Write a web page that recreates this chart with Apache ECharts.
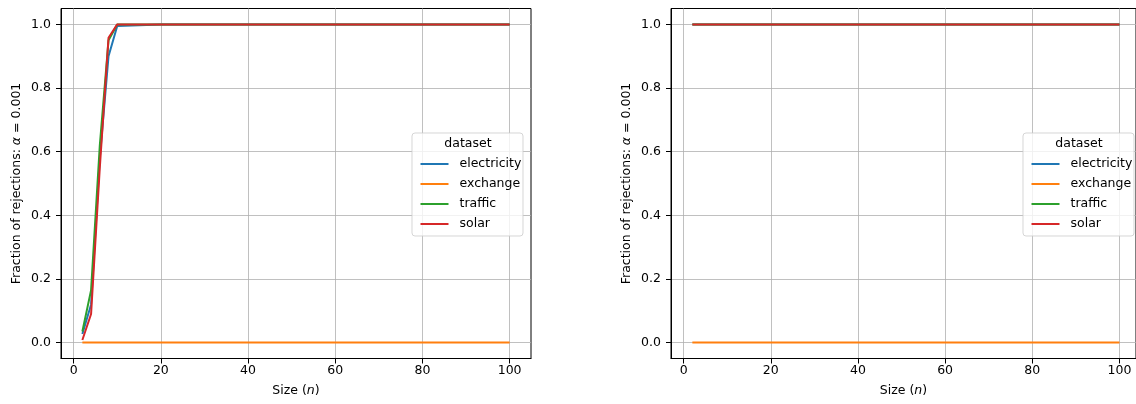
<!DOCTYPE html>
<html>
<head>
<meta charset="utf-8">
<script src="https://cdn.jsdelivr.net/npm/echarts@6/dist/echarts.min.js"></script>
<style>
html,body{margin:0;padding:0;background:#fff;}
#c{width:1136px;height:404px;}
</style>
</head>
<body>
<div id="c"></div>
<script>
// ---- data ----
const sizes = [2, 4, 6, 8, 10, 20, 30, 40, 50, 60, 70, 80, 90, 100];
const seriesNames = ['electricity', 'exchange', 'traffic', 'solar'];
// left panel
const electricityL = [0.027, 0.12, 0.58, 0.90, 0.995, 1, 1, 1, 1, 1, 1, 1, 1, 1];
const exchangeL    = [0, 0, 0, 0, 0, 0, 0, 0, 0, 0, 0, 0, 0, 0];
const trafficL     = [0.035, 0.165, 0.62, 0.95, 1, 1, 1, 1, 1, 1, 1, 1, 1, 1];
const solarL       = [0.008, 0.09, 0.55, 0.958, 1, 1, 1, 1, 1, 1, 1, 1, 1, 1];
// right panel
const electricityR = [1, 1, 1, 1, 1, 1, 1, 1, 1, 1, 1, 1, 1, 1];
const exchangeR    = [0, 0, 0, 0, 0, 0, 0, 0, 0, 0, 0, 0, 0, 0];
const trafficR     = [1, 1, 1, 1, 1, 1, 1, 1, 1, 1, 1, 1, 1, 1];
const solarR       = [1, 1, 1, 1, 1, 1, 1, 1, 1, 1, 1, 1, 1, 1];
const xTicks = [0, 20, 40, 60, 80, 100];
const yTicks = [0, 0.2, 0.4, 0.6, 0.8, 1.0];

const colors = ['#1f77b4', '#ff7f0e', '#2ca02c', '#d62728'];
const FONT = 'DejaVu Sans';
const FS = 12.5;

function zip(xs, ys) { return xs.map((x, i) => [x, ys[i]]); }

const panels = [
  {left: 61, width: 470, xmax: 104.9, data: [electricityL, exchangeL, trafficL, solarL], legendX: 411.5},
  {left: 671, width: 465, xmax: 103.8, data: [electricityR, exchangeR, trafficR, solarR], legendX: 1022.5}
];

const grids = [], xAxes = [], yAxes = [], series = [], legends = [], graphics = [];
panels.forEach((p, k) => {
  grids.push({left: p.left, top: 8.5, width: p.width, height: 350, show: true,
    borderColor: '#000', borderWidth: 1, backgroundColor: 'transparent', containLabel: false});
  xAxes.push({
    type: 'value', gridIndex: k, min: -2.9, max: p.xmax,
    axisLine: {show: true, onZero: false, lineStyle: {color: '#000', width: 1}},
    axisTick: {show: true, length: 5, lineStyle: {color: '#000'}, customValues: xTicks},
    axisLabel: {customValues: xTicks, color: '#000', fontFamily: FONT, fontSize: FS, margin: 6,
      formatter: v => String(v)},
    splitLine: {show: true, lineStyle: {color: '#b0b0b0', width: 0.8}, customValues: xTicks},
    name: '{n|Size (}{i|n}{n|)}', nameLocation: 'middle', nameGap: 26,
    nameTextStyle: {rich: {
      n: {fontFamily: FONT, fontSize: FS, color: '#000'},
      i: {fontFamily: FONT, fontSize: FS, color: '#000', fontStyle: 'italic'}
    }}
  });
  yAxes.push({
    type: 'value', gridIndex: k, min: -0.05, max: 1.05,
    axisLine: {show: true, onZero: false, lineStyle: {color: '#000', width: 1}},
    axisTick: {show: true, length: 5, lineStyle: {color: '#000'}, customValues: yTicks},
    axisLabel: {customValues: yTicks, color: '#000', fontFamily: FONT, fontSize: FS, margin: 10,
      formatter: v => v.toFixed(1)},
    splitLine: {show: true, lineStyle: {color: '#b0b0b0', width: 0.8}, customValues: yTicks},
    name: '{n|Fraction of rejections: }{i|α}{n| = 0.001}', nameLocation: 'middle', nameGap: 38,
    nameRotate: 90,
    nameTextStyle: {rich: {
      n: {fontFamily: FONT, fontSize: FS, color: '#000'},
      i: {fontFamily: FONT, fontSize: FS, color: '#000', fontStyle: 'italic'}
    }}
  });
  seriesNames.forEach((nm, j) => {
    series.push({
      name: nm, type: 'line', xAxisIndex: k, yAxisIndex: k,
      data: zip(sizes, p.data[j]), showSymbol: false, symbol: 'none',
      lineStyle: {color: colors[j], width: 2}, itemStyle: {color: colors[j]},
      animation: false, z: 3 + j
    });
  });
  legends.push({
    data: seriesNames, orient: 'vertical', left: p.legendX + 4, top: 151.5,
    itemWidth: 28, itemHeight: 2, itemGap: 5, icon: 'rect',
    textStyle: {fontFamily: FONT, fontSize: FS, color: '#000', lineHeight: 15, padding: [0, 0, 0, 6]},
    selectedMode: false, z: 10
  });
  graphics.push({
    type: 'rect', left: p.legendX, top: 132.5, z: 8,
    shape: {width: 111, height: 103, r: 3},
    style: {fill: 'rgba(255,255,255,0.8)', stroke: 'rgba(204,204,204,0.8)', lineWidth: 1}
  });
  graphics.push({
    type: 'text', x: p.legendX + 56.5, y: 143.5, z: 9,
    style: {text: 'dataset', fontFamily: FONT, fontSize: FS, fill: '#000',
      textAlign: 'center', textVerticalAlign: 'middle'}
  });
});

const chart = echarts.init(document.getElementById('c'), null, {renderer: 'canvas'});
chart.setOption({
  animation: false,
  color: colors,
  grid: grids, xAxis: xAxes, yAxis: yAxes, series: series,
  legend: legends, graphic: graphics
});
</script>
</body>
</html>
